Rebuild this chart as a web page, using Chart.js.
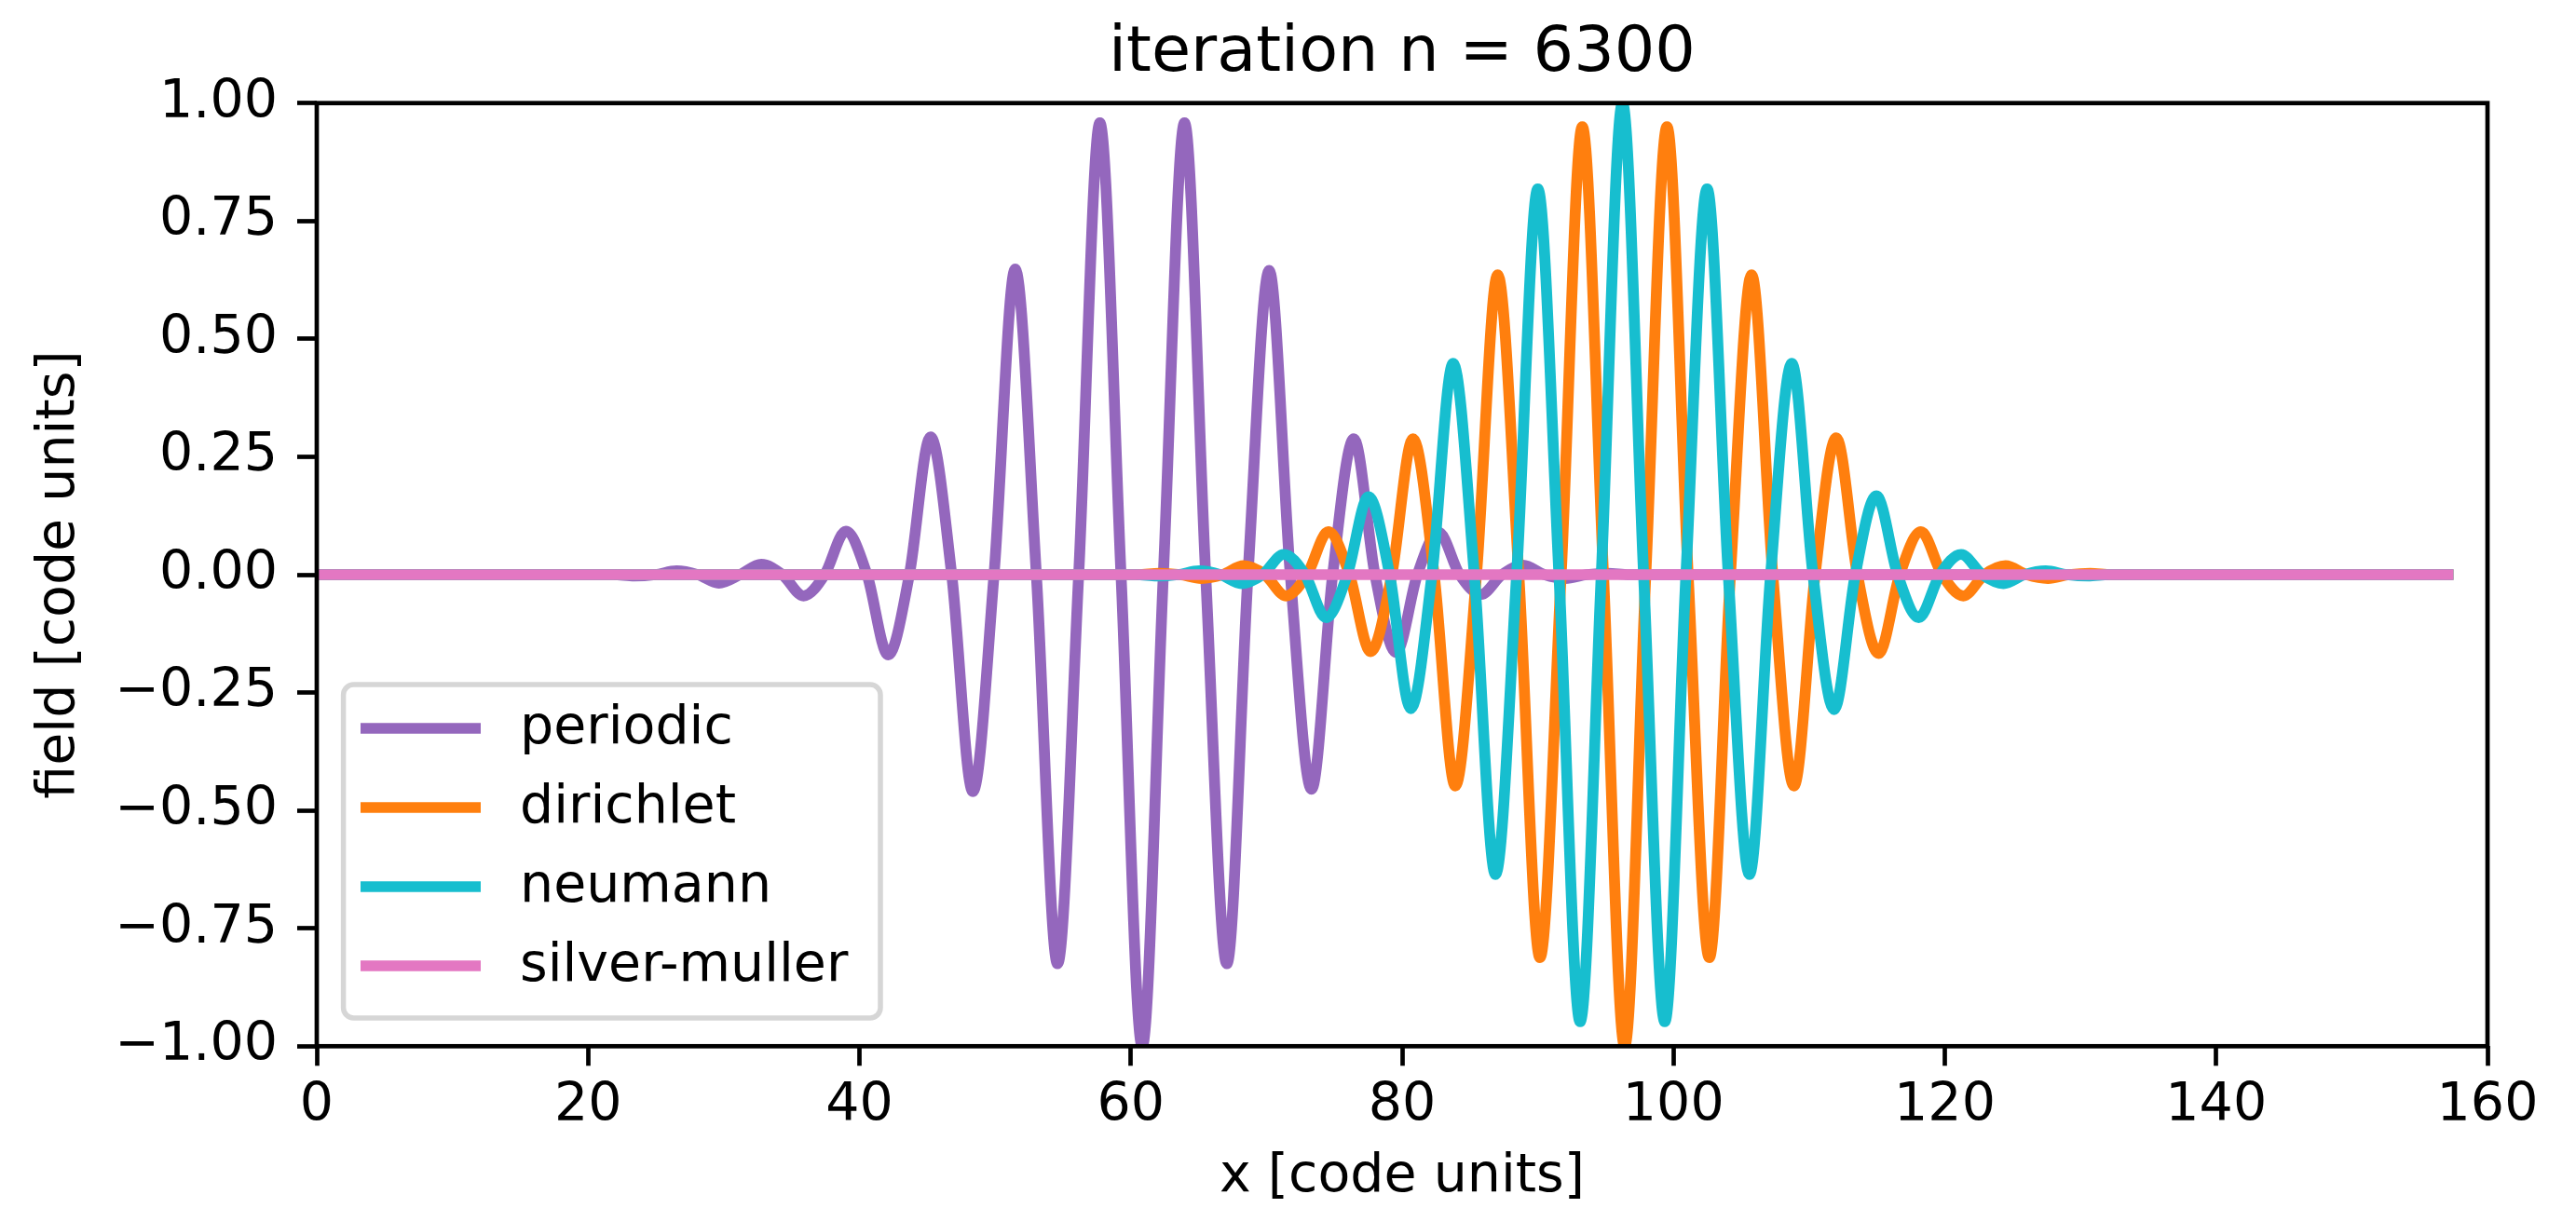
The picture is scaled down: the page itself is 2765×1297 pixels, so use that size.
<!DOCTYPE html>
<html>
<head>
<meta charset="utf-8">
<title>iteration n = 6300</title>
<script src="https://cdn.jsdelivr.net/npm/chart.js@4.4.1/dist/chart.umd.min.js"></script>
<style>
  html, body { margin: 0; padding: 0; background: #ffffff; }
  #fieldGraph { display: block; }
</style>
</head>
<body>
<canvas id="fieldGraph" width="2765" height="1297"></canvas>
<script>
// values: zero crossings and extrema of each packet
var seriesNames = ["periodic", "dirichlet", "neumann", "silver-muller"];
var seriesColors = ["#9467bd", "#ff7f0e", "#17becf", "#e377c2"];
var titleText = 'iteration n = 6300';

var periodicX = [0, 21.84, 23.40, 24.96, 26.52, 28.08, 29.64, 31.20, 32.76, 34.32, 35.88, 37.44,
  39.00, 40.56, 42.12, 43.68, 45.24, 46.80, 48.36, 49.92, 51.48, 53.04, 54.60, 56.16, 57.72, 59.28,
  60.84, 62.40, 63.96, 65.52, 67.08, 68.64, 70.20, 71.76, 73.32, 74.88, 76.44, 78.00, 79.56, 81.12,
  82.68, 84.24, 85.80, 87.36, 88.92, 90.48, 92.04, 93.60, 95.16, 96.72, 157.08];
var periodicY = [0, 0, -0.003, 0, 0.008, 0, -0.018, 0, 0.022, 0, -0.045, 0,
  0.092, 0, -0.170, 0, 0.292, 0, -0.460, 0, 0.648, 0, -0.825, 0, 0.958, 0,
  -1.000, 0, 0.958, 0, -0.825, 0, 0.645, 0, -0.455, 0, 0.288, 0, -0.165, 0,
  0.090, 0, -0.042, 0, 0.020, 0, -0.008, 0, 0.003, 0, 0];

var dirichletX = [0, 60.52, 62.08, 63.64, 65.20, 66.76, 68.32, 69.88, 71.44, 73.00, 74.56, 76.12,
  77.68, 79.24, 80.80, 82.36, 83.92, 85.48, 87.04, 88.60, 90.16, 91.72, 93.28, 94.84, 96.40, 97.96,
  99.52, 101.08, 102.64, 104.20, 105.76, 107.32, 108.88, 110.44, 112.00, 113.56, 115.12, 116.68,
  118.24, 119.80, 121.36, 122.92, 124.48, 126.04, 127.60, 129.16, 130.72, 132.28, 157.08];
var dirichletY = [0, 0, 0.003, 0, -0.008, 0, 0.019, 0, -0.045, 0, 0.091, 0,
  -0.163, 0, 0.288, 0, -0.448, 0, 0.636, 0, -0.812, 0, 0.950, 0, -1.000, 0,
  0.950, 0, -0.812, 0, 0.636, 0, -0.448, 0, 0.290, 0, -0.167, 0,
  0.091, 0, -0.045, 0, 0.019, 0, -0.008, 0, 0.003, 0, 0];

var neumannX = [0, 60.36, 61.92, 63.48, 65.04, 66.60, 68.16, 69.72, 71.28, 72.84, 74.40, 75.96,
  77.52, 79.08, 80.64, 82.20, 83.76, 85.32, 86.88, 88.44, 90.00, 91.56, 93.12, 94.68, 96.24, 97.80,
  99.36, 100.92, 102.48, 104.04, 105.60, 107.16, 108.72, 110.28, 111.84, 113.40, 114.96, 116.52,
  118.08, 119.64, 121.20, 122.76, 124.32, 125.88, 127.44, 129.00, 130.56, 132.12, 157.08];
var neumannY = [0, 0, -0.003, 0, 0.008, 0, -0.019, 0, 0.043, 0, -0.091, 0,
  0.165, 0, -0.284, 0, 0.448, 0, -0.636, 0, 0.818, 0, -0.948, 0, 1.000, 0,
  -0.948, 0, 0.818, 0, -0.636, 0, 0.448, 0, -0.286, 0, 0.167, 0,
  -0.091, 0, 0.043, 0, -0.019, 0, 0.008, 0, -0.003, 0, 0];

var silverX = [0, 157.08];
var silverY = [0, 0];

var xTickStep = 20;
var yTickStep = 0.25;

function toPoints(xs, ys) {
  return xs.map(function (x, i) { return { x: x, y: ys[i] }; });
}

Chart.defaults.font.family = "'DejaVu Sans', sans-serif";
Chart.defaults.color = "#000000";

var lineWidth = 11.7;

function lineSet(i, xs, ys, order) {
  return {
    label: seriesNames[i],
    data: toPoints(xs, ys),
    borderColor: seriesColors[i],
    backgroundColor: seriesColors[i],
    borderWidth: lineWidth,
    borderCapStyle: 'square',
    borderJoinStyle: 'round',
    pointRadius: 0,
    fill: false,
    cubicInterpolationMode: 'monotone',
    order: order
  };
}

// spines on top of the lines, then title over the axes and the framed legend
var framePlugin = {
  id: 'frameAndLegend',
  afterDatasetsDraw: function (chart) {
    var a = chart.chartArea;
    var ctx = chart.ctx;
    ctx.save();
    ctx.strokeStyle = '#000000';
    ctx.lineWidth = 4.7;
    ctx.lineJoin = 'miter';
    ctx.strokeRect(a.left, a.top, a.right - a.left, a.bottom - a.top);
    ctx.restore();
  },
  afterDraw: function (chart) {
    var ctx = chart.ctx;
    var a = chart.chartArea;
    ctx.save();
    ctx.font = "68.5px 'DejaVu Sans'";
    ctx.fillStyle = '#000000';
    ctx.textAlign = 'center';
    ctx.textBaseline = 'alphabetic';
    ctx.fillText(titleText, (a.left + a.right) / 2, 76);

    var bx = 368.6, by = 735, bw = 576.4, bh = 358, r = 11;
    ctx.beginPath();
    ctx.roundRect(bx, by, bw, bh, r);
    ctx.fillStyle = 'rgba(255,255,255,0.8)';
    ctx.fill();
    ctx.lineWidth = 5.5;
    ctx.strokeStyle = 'rgba(204,204,204,0.8)';
    ctx.stroke();

    var rows = [782, 867, 952, 1037];
    ctx.font = "57px 'DejaVu Sans'";
    ctx.textBaseline = 'middle';
    ctx.textAlign = 'left';
    chart.data.datasets.forEach(function (ds, i) {
      ctx.beginPath();
      ctx.lineCap = 'butt';
      ctx.lineWidth = lineWidth;
      ctx.strokeStyle = ds.borderColor;
      ctx.moveTo(387, rows[i]);
      ctx.lineTo(516, rows[i]);
      ctx.stroke();
      ctx.fillStyle = '#000000';
      ctx.fillText(ds.label, 558, rows[i] + 1);
    });
    ctx.restore();
  }
};

var fieldConfig = {
  type: 'line',
  data: {
    datasets: [
      lineSet(0, periodicX, periodicY, 3),
      lineSet(1, dirichletX, dirichletY, 2),
      lineSet(2, neumannX, neumannY, 1),
      lineSet(3, silverX, silverY, 0)
    ]
  },
  options: {
    responsive: false,
    devicePixelRatio: 1,
    animation: false,
    events: [],
    layout: { padding: { left: 0, right: 95, top: 110.7, bottom: 0 } },
    plugins: {
      legend: { display: false },
      tooltip: { enabled: false },
      title: { display: false }
    },
    scales: {
      x: {
        type: 'linear',
        min: 0,
        max: 160,
        afterFit: function (s) { s.height = 173.7; },
        ticks: {
          stepSize: xTickStep,
          autoSkip: false,
          maxRotation: 0,
          padding: 10,
          color: '#000000',
          font: { size: 57 }
        },
        grid: {
          drawOnChartArea: false,
          drawTicks: true,
          tickLength: 21,
          tickWidth: 4.7,
          tickColor: '#000000'
        },
        border: { display: false },
        title: {
          display: true,
          text: 'x [code units]',
          color: '#000000',
          font: { size: 57, lineHeight: 1 },
          padding: { top: 0, bottom: 4.5 }
        }
      },
      y: {
        type: 'linear',
        min: -1,
        max: 1,
        afterFit: function (s) { s.width = 340; },
        ticks: {
          stepSize: yTickStep,
          autoSkip: false,
          padding: 21,
          color: '#000000',
          font: { size: 57 },
          callback: function (v) { return Number(v).toFixed(2).replace('-', '\u2212'); }
        },
        grid: {
          drawOnChartArea: false,
          drawTicks: true,
          tickLength: 21,
          tickWidth: 4.7,
          tickColor: '#000000'
        },
        border: { display: false },
        title: {
          display: true,
          text: 'field [code units]',
          color: '#000000',
          font: { size: 57, lineHeight: 1 },
          padding: { top: 35.5, bottom: 0 }
        }
      }
    }
  },
  plugins: [framePlugin]
};

var fieldCtx = document.getElementById("fieldGraph");
var fieldChart = new Chart(fieldCtx, fieldConfig);
</script>
</body>
</html>
